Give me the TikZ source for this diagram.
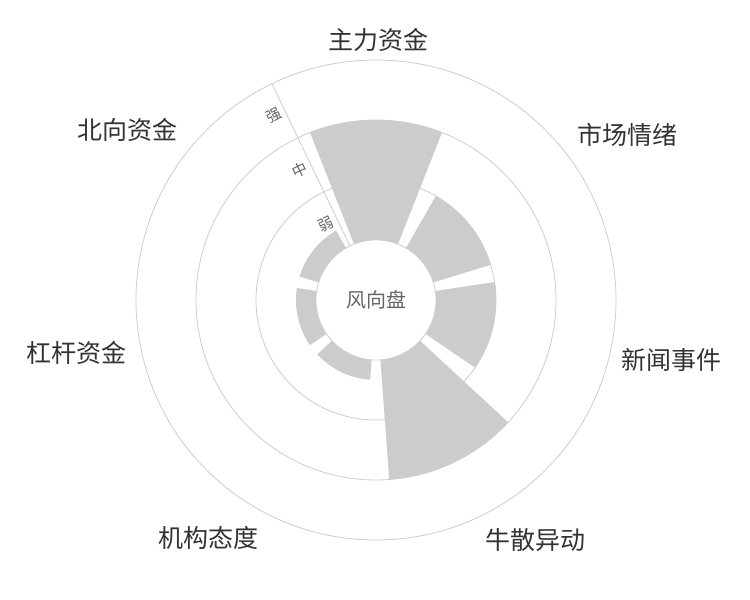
\documentclass[tikz,border=0pt]{standalone}
\usepackage{fontspec}
\usetikzlibrary{calc}
\setmainfont{Noto Sans CJK SC}
\begin{document}
\begin{tikzpicture}[x=1pt,y=1pt,
  ring/.style={draw=black!20,line width=0.8pt},
  bar/.style={fill=black!20},
  cat/.style={text=black!80,font=\fontsize{25}{27}\selectfont},
  axl/.style={text=black!60,font=\fontsize{15}{17}\selectfont,rotate=25.7}]
\useasboundingbox (0,0) rectangle (750,-600);
\begin{scope}[shift={(376,-300)}]
\coordinate (c) at (0,0);
\foreach \r in {120,180,240} \draw[ring] (c) circle[radius=\r];
\foreach \a/\r in {90/180,38.57/120,-12.86/120,-64.29/180,-115.71/80,-167.14/80,141.43/80}{
  \fill[bar] (\a-21.5:\r) arc[start angle=\a-21.5,end angle=\a+21.5,radius=\r] -- (\a+21.5:60) arc[start angle=\a+21.5,end angle=\a-21.5,radius=60] -- cycle;
}
\draw[ring,fill=white] (c) circle[radius=60];
\draw[ring] (115.71:60) -- (115.71:240);
\node[axl] (w) at ($(115.71:90)+(205.71:12)$) {弱};
\node[axl] (m) at ($(115.71:150)+(205.71:12)$) {中};
\node[axl] (s) at ($(115.71:210)+(205.71:12)$) {强};
\node[text=black!60,font=\fontsize{20}{22}\selectfont] (ctr) at (c) {风向盘};
\end{scope}
\node[cat] (l1) at (378,-40) {主力资金};
\node[cat] (l2) at (627,-135) {市场情绪};
\node[cat] (l3) at (671,-360) {新闻事件};
\node[cat] (l4) at (535,-540) {牛散异动};
\node[cat] (l5) at (208,-538) {机构态度};
\node[cat] (l6) at (77,-353) {杠杆资金};
\node[cat] (l7) at (127,-130) {北向资金};
\end{tikzpicture}
\end{document}
